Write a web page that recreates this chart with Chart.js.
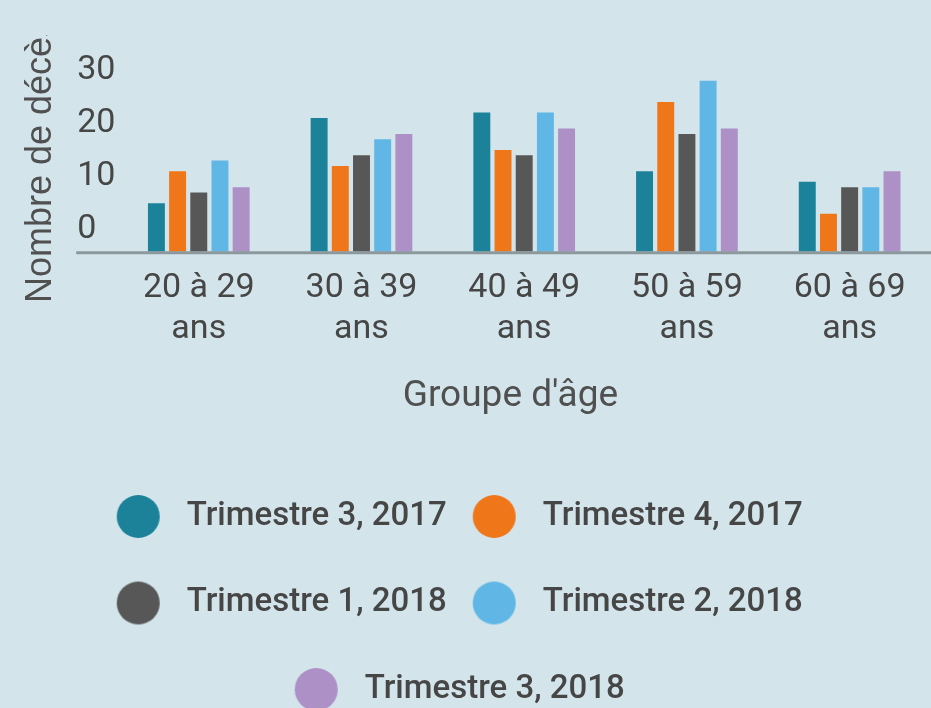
<!DOCTYPE html>
<html lang="fr">
<head>
<meta charset="utf-8">
<title>Décès par groupe d'âge</title>
<script src="https://cdn.jsdelivr.net/npm/chart.js@4.4.1/dist/chart.umd.min.js"></script>
<style>
  html, body { margin: 0; padding: 0; background: #d3e5eb; overflow: hidden; }
  #cadre { width: 931px; height: 716px; }
</style>
</head>
<body>
<div id="cadre"><canvas id="graphique" width="931" height="716"></canvas></div>
<script>
// données
const groupesAge = [['20 à 29', 'ans'], ['30 à 39', 'ans'], ['40 à 49', 'ans'], ['50 à 59', 'ans'], ['60 à 69', 'ans']];
const trimestres = ['Trimestre 3, 2017', 'Trimestre 4, 2017', 'Trimestre 1, 2018', 'Trimestre 2, 2018', 'Trimestre 3, 2018'];
const t3_2017 = [5, 21, 22, 11, 9];
const t4_2017 = [11, 12, 15, 24, 3];
const t1_2018 = [7, 14, 14, 18, 8];
const t2_2018 = [13, 17, 22, 28, 8];
const t3_2018 = [8, 18, 19, 19, 11];
const ticksY = [0, 10, 20, 30];

const couleurs = ['#1b8299', '#f0761a', '#575757', '#60b6e4', '#ac90c6'];
const texte = '#464646';
const yMin = -4.14;

// legende : pastilles rondes, ecarts comme sur l'original
const tailleLegende = 33;
const espaceLegende = 86.5 - tailleLegende;
const rayon = 21.5;
const decalage = 47.5 - espaceLegende;
const largeurBoite = 27 + rayon + decalage - tailleLegende / 2;

function pastille(couleur) {
  const ecart = largeurBoite / 2 - decalage;
  const c = document.createElement('canvas');
  c.width = Math.ceil(2 * (ecart + rayon + 1));
  c.height = 2 * rayon + 2;
  const g = c.getContext('2d');
  g.fillStyle = couleur;
  g.beginPath();
  g.arc(c.width / 2 - ecart, c.height / 2, rayon, 0, Math.PI * 2);
  g.fill();
  return c;
}

const ligneAxe = {
  id: 'ligneAxe',
  afterDatasetsDraw(chart) {
    const { ctx, chartArea, scales } = chart;
    ctx.save();
    ctx.strokeStyle = '#8b999c';
    ctx.lineWidth = 3;
    ctx.beginPath();
    ctx.moveTo(scales.y.left - 1, chartArea.bottom + 1);
    ctx.lineTo(chartArea.right, chartArea.bottom + 1);
    ctx.stroke();
    ctx.restore();
  }
};

// le titre vertical est coupé en haut sur l'original
const coupeHaut = {
  id: 'coupeHaut',
  beforeDraw(chart) {
    const c = chart.ctx;
    c.save();
    c.beginPath();
    c.rect(0, 35, chart.width, chart.height);
    c.clip();
  },
  afterDraw(chart) {
    chart.ctx.restore();
  }
};

Chart.defaults.font.family = 'Roboto';
Chart.defaults.color = texte;

const series = [t3_2017, t4_2017, t1_2018, t2_2018, t3_2018];

const dadosBarra = {
  labels: groupesAge,
  datasets: series.map(function (valeurs, i) {
    return {
      label: trimestres[i],
      data: valeurs,
      backgroundColor: couleurs[i],
      base: yMin,
      barPercentage: 0.8,
      categoryPercentage: 0.651
    };
  })
};

const ctx = document.getElementById('graphique');

new Chart(ctx, {
  type: 'bar',
  data: dadosBarra,
  plugins: [ligneAxe, coupeHaut],
  options: {
    responsive: false,
    animation: false,
    layout: { padding: { top: 70, left: 16, right: 0, bottom: 0 } },
    scales: {
      x: {
        grid: { display: false, drawTicks: false },
        border: { display: false },
        ticks: {
          font: { size: 34, lineHeight: 1.18 },
          padding: 17,
          maxRotation: 0,
          autoSkip: false
        },
        title: {
          display: true,
          text: "Groupe d'âge   ",
          color: '#505050',
          font: { size: 37 },
          padding: { top: 8, bottom: 28 }
        }
      },
      y: {
        position: 'left',
        weight: 0,
        min: yMin,
        max: 30,
        grid: { display: false, drawTicks: false },
        border: { display: false },
        afterBuildTicks: function (axis) {
          axis.ticks = ticksY.map(v => ({ value: v }));
        },
        ticks: {
          crossAlign: 'far',
          padding: 1,
          font: { size: 34 }
        }
      },
      yTitre: {
        type: 'linear',
        position: 'left',
        weight: 1,
        grid: { display: false, drawTicks: false },
        border: { display: false },
        ticks: { display: false },
        title: {
          display: true,
          text: 'Nombre de décès',
          color: '#505050',
          font: { family: 'Liberation Sans', size: 36 },
          padding: { top: 3, bottom: 15 }
        }
      }
    },
    plugins: {
      legend: {
        position: 'bottom',
        labels: {
          usePointStyle: true,
          pointStyleWidth: largeurBoite,
          padding: espaceLegende,
          font: { size: tailleLegende, weight: 500 },
          color: texte,
          generateLabels: function (chart) {
            const items = Chart.defaults.plugins.legend.labels.generateLabels(chart);
            items.forEach(function (item) {
              item.pointStyle = pastille(couleurs[item.datasetIndex]);
            });
            return items;
          }
        }
      },
      tooltip: { enabled: false }
    }
  }
});
</script>
</body>
</html>
